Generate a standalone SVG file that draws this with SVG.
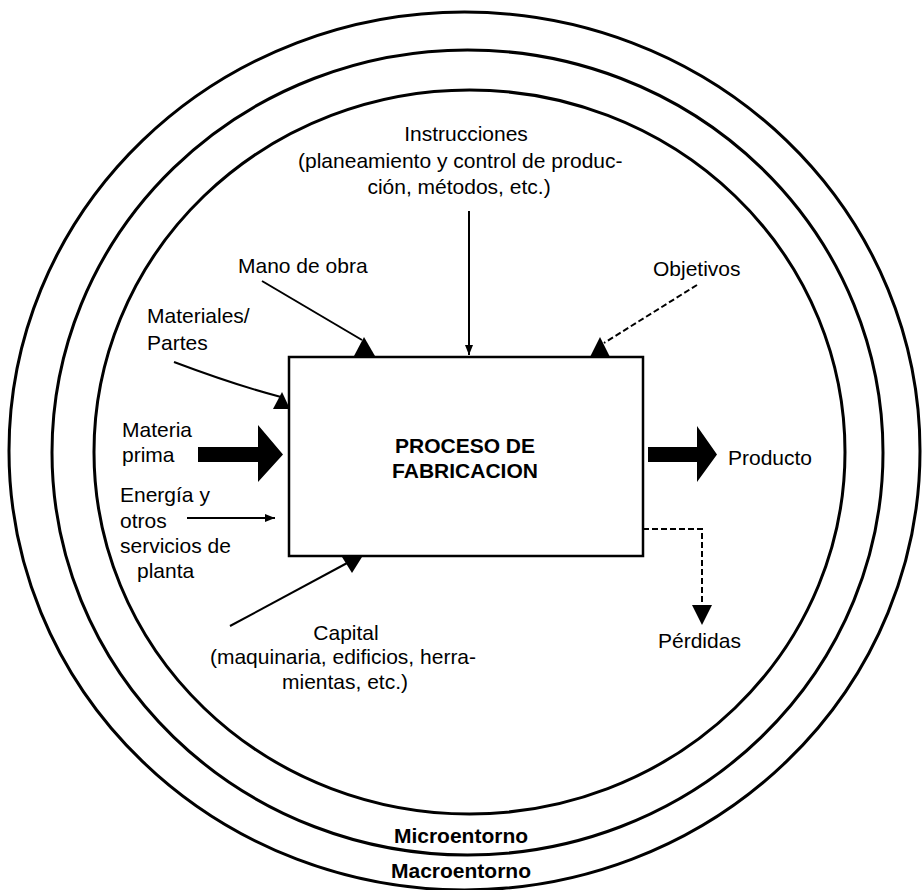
<svg xmlns="http://www.w3.org/2000/svg" width="922" height="890" viewBox="0 0 922 890">
<defs>
<style>
.t{font-family:"Liberation Sans",Arial,sans-serif;font-size:21px;fill:#000}
.b{font-family:"Liberation Sans",Arial,sans-serif;font-size:21px;font-weight:bold;fill:#000}
.ring{fill:none;stroke:#000;stroke-width:3}
.ln{fill:none;stroke:#000;stroke-width:2}
.dash{fill:none;stroke:#000;stroke-width:2;stroke-dasharray:6 3}
.head{fill:#000;stroke:none}
</style>
<marker id="small" viewBox="0 0 10 10" refX="10" refY="5" markerWidth="5" markerHeight="5" orient="auto" markerUnits="strokeWidth">
<path d="M0,1 L10,5 L0,9 Z" fill="#000"/>
</marker>
</defs>
<rect width="922" height="890" fill="#fff"/>
<g id="macroentorno">
<ellipse class="ring" cx="464.5" cy="451" rx="455.5" ry="439"/>
<text class="b" x="461" y="878" text-anchor="middle">Macroentorno</text>
</g>
<g id="microentorno">
<ellipse class="ring" cx="467.5" cy="452.5" rx="415.5" ry="402.5"/>
<text class="b" x="461" y="843" text-anchor="middle">Microentorno</text>
</g>
<g id="entorno-interno">
<ellipse class="ring" cx="469.5" cy="452" rx="375.5" ry="362"/>
</g>
<g id="proceso">
<rect x="289" y="357" width="354" height="199" fill="#fff" stroke="#000" stroke-width="2.5"/>
<text class="b" x="465" y="453" text-anchor="middle">PROCESO DE</text>
<text class="b" x="465" y="478" text-anchor="middle">FABRICACION</text>
</g>
<g id="instrucciones">
<text class="t" x="466" y="141" text-anchor="middle">Instrucciones</text>
<text class="t" x="298" y="168">(planeamiento y control de produc-</text>
<text class="t" x="459" y="194" text-anchor="middle">ción, métodos, etc.)</text>
</g>
<g id="mano-de-obra"><text class="t" x="238" y="273">Mano de obra</text></g>
<g id="objetivos"><text class="t" x="653" y="276">Objetivos</text></g>
<g id="materiales"><text class="t" x="147" y="323">Materiales/</text><text class="t" x="147" y="350">Partes</text></g>
<g id="materia-prima"><text class="t" x="122" y="437">Materia</text><text class="t" x="122" y="462">prima</text></g>
<g id="energia">
<text class="t" x="120" y="502">Energía y</text>
<text class="t" x="120" y="528">otros</text>
<text class="t" x="120" y="553">servicios de</text>
<text class="t" x="137" y="578">planta</text>
</g>
<g id="capital">
<text class="t" x="346" y="640" text-anchor="middle">Capital</text>
<text class="t" x="343" y="664" text-anchor="middle">(maquinaria, edificios, herra-</text>
<text class="t" x="345" y="689" text-anchor="middle">mientas, etc.)</text>
</g>
<g id="producto"><text class="t" x="728" y="465">Producto</text></g>
<g id="perdidas"><text class="t" x="658" y="648">Pérdidas</text></g>
<g id="connectors">
<line class="ln" x1="469" y1="211" x2="469" y2="355" marker-end="url(#small)"/>
<line class="ln" x1="262" y1="281" x2="362" y2="340"/>
<path class="head" d="M364,337 L375,356 L354,356 Z"/>
<path class="ln" d="M174,362 Q235,385 281,397"/>
<path class="head" d="M282,392 L290,409 L273,409 Z"/>
<line class="dash" x1="697" y1="285" x2="604" y2="343"/>
<path class="head" d="M600,337 L610,357 L590,357 Z"/>
<path class="head" d="M198,447 L258,447 L258,425 L283,454.5 L258,482 L258,462 L198,462 Z"/>
<line class="ln" x1="187" y1="518" x2="275" y2="518" marker-end="url(#small)"/>
<line class="ln" x1="230" y1="626" x2="349" y2="562"/>
<path class="head" d="M342,557 L362,557 L352,573 Z"/>
<path class="head" d="M648,447 L697,447 L697,426 L717,454.5 L697,482 L697,462 L648,462 Z"/>
<polyline class="dash" points="643,529 702,529 702,606"/>
<path class="head" d="M692,605 L712,605 L702,625 Z"/>
</g>
</svg>
